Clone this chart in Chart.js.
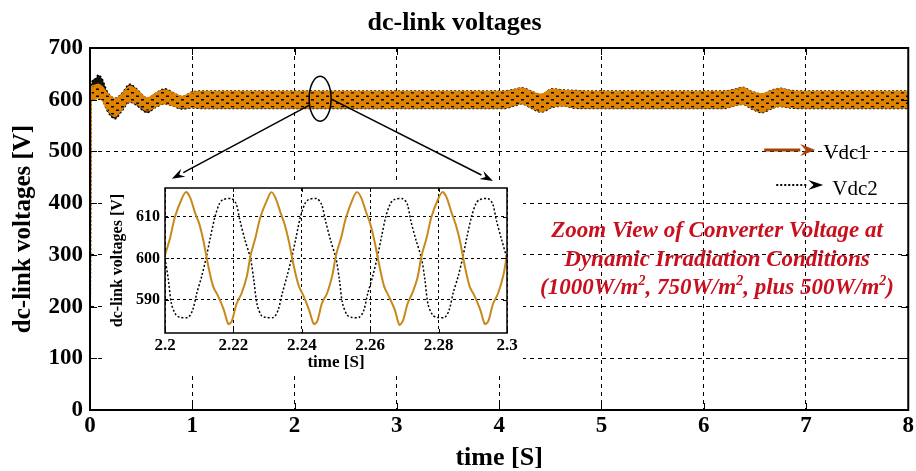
<!DOCTYPE html>
<html>
<head>
<meta charset="utf-8">
<title>dc-link voltages</title>
<script src="https://cdn.jsdelivr.net/npm/chart.js@4.4.0/dist/chart.umd.min.js"></script>
<style>
  body { margin: 0; background: #fff; }
  #wrap { position: relative; width: 916px; height: 471px; overflow: hidden; }
  #mainChart { position: absolute; left: 0; top: 0; }
  #insetChart { position: absolute; left: 103px; top: 183px; }
  #note {
    position: absolute; left: 497px; top: 216px; width: 440px;
    text-align: center; color: #c8101e;
    font: italic bold 23px "Liberation Serif", "Times New Roman", serif;
    line-height: 28.5px;
  }
  #note sup { font-size: 14px; line-height: 0; vertical-align: 9px; }
</style>
</head>
<body>
<div id="wrap">
  <canvas id="mainChart" width="916" height="471"></canvas>
  <canvas id="insetChart" width="420" height="190"></canvas>
  <div id="note">Zoom View of Converter Voltage at<br>Dynamic Irradiation Conditions<br>(1000W/m<sup>2</sup>, 750W/m<sup>2</sup>, plus 500W/m<sup>2</sup>)</div>
</div>
<script>
// ---- main plot: envelope of the ripple band ----
const envTime = [0, 0.01, 0.05, 0.08, 0.12, 0.17, 0.245, 0.31, 0.39, 0.45,
  0.56, 0.64, 0.73, 0.81, 0.9, 1.0, 1.1, 1.5, 2.0, 2.5,
  3.0, 3.5, 4.05, 4.15, 4.22, 4.3, 4.41, 4.52, 4.62, 4.72,
  4.85, 5.0, 5.5, 6.0, 6.2, 6.3, 6.38, 6.47, 6.57, 6.66,
  6.74, 6.85, 6.95, 7.2, 7.5, 8.0];
const vdc2Hi = [0, 628, 640, 648, 640, 615, 603, 612, 630, 622,
  603, 612, 621, 614, 606, 615, 617, 617, 617, 617,
  617, 617, 617, 620, 623, 618, 610, 621, 619, 618,
  617, 617, 617, 617, 617, 620, 624, 616, 611, 618,
  622, 618, 617, 617, 617, 617];
const vdc2Lo = [0, 600, 605, 608, 600, 578, 563, 578, 595, 590,
  575, 585, 592, 588, 582, 584, 583, 583, 583, 583,
  583, 583, 583, 588, 592, 585, 576, 585, 588, 584,
  583, 583, 583, 583, 583, 588, 591, 582, 575, 582,
  587, 584, 583, 583, 583, 583];
const vdc1Hi = [0, 625, 628, 630, 625, 612, 602, 610, 626, 620,
  603, 612, 619, 613, 606, 614, 616, 616, 616, 616,
  616, 616, 616, 619, 622, 617, 610, 620, 618, 617,
  616, 616, 616, 616, 616, 619, 623, 615, 611, 617,
  621, 617, 616, 616, 616, 616];
const vdc1Lo = [0, 600, 600, 603, 598, 580, 567, 580, 596, 592,
  578, 586, 592, 588, 584, 585, 584, 584, 584, 584,
  584, 584, 584, 589, 592, 586, 577, 586, 588, 585,
  584, 584, 584, 584, 584, 588, 591, 583, 576, 583,
  587, 585, 584, 584, 584, 584];

// ---- inset (zoom 2.2 .. 2.3 s) ----
const insetT1 = [
  2.2, 2.2015, 2.2029, 2.2049, 2.2061, 2.2073, 2.2088, 2.21, 2.2112, 2.2127, 2.2141, 2.2156, 2.2172, 2.2185, 2.2195, 2.2209, 2.2224, 2.2239,
  2.225, 2.2265, 2.2279, 2.2299, 2.2311, 2.2323, 2.2338, 2.235, 2.2362, 2.2377, 2.2391, 2.2406, 2.2422, 2.2435, 2.2445, 2.2459, 2.2474, 2.2489,
  2.25, 2.2515, 2.2529, 2.2549, 2.2561, 2.2573, 2.2588, 2.26, 2.2612, 2.2627, 2.2641, 2.2656, 2.2672, 2.2685, 2.2695, 2.2709, 2.2724, 2.2739,
  2.275, 2.2765, 2.2779, 2.2799, 2.2811, 2.2823, 2.2838, 2.285, 2.2862, 2.2877, 2.2891, 2.2906, 2.2922, 2.2935, 2.2945, 2.2959, 2.2974, 2.2989, 2.3];
const insetVdc1 = [
  600.8, 605, 610, 614.4, 616, 614.8, 611, 608.4, 604.4, 598, 593.2, 590.8, 587.6, 584.2, 584.8, 589, 591.6, 595.6,
  600.6, 605.2, 610, 614.2, 616, 614.6, 611, 608.2, 604.2, 598, 593.4, 590.8, 587.4, 584.2, 584.8, 589.2, 591.6, 595.8,
  600.8, 605, 609.8, 614.4, 616, 614.8, 611.2, 608.4, 604.4, 598.2, 593.2, 590.6, 587.6, 584, 584.8, 589, 591.8, 595.6,
  600.6, 605, 610, 614.4, 616, 614.8, 611, 608.2, 604.4, 598, 593.2, 590.8, 587.6, 584.2, 584.8, 589, 591.6, 595.8, 601];
const insetT2 = [
  2.2, 2.201, 2.2019, 2.2032, 2.2044, 2.2068, 2.2081, 2.2093, 2.2107, 2.212, 2.2133, 2.2146, 2.2159, 2.217, 2.2195, 2.2208, 2.2219, 2.2234,
  2.225, 2.226, 2.2269, 2.2282, 2.2294, 2.2318, 2.2331, 2.2343, 2.2357, 2.237, 2.2383, 2.2396, 2.2409, 2.242, 2.2445, 2.2458, 2.2469, 2.2484,
  2.25, 2.251, 2.2519, 2.2532, 2.2544, 2.2568, 2.2581, 2.2593, 2.2607, 2.262, 2.2633, 2.2646, 2.2659, 2.267, 2.2695, 2.2708, 2.2719, 2.2734,
  2.275, 2.276, 2.2769, 2.2782, 2.2794, 2.2818, 2.2831, 2.2843, 2.2857, 2.287, 2.2883, 2.2896, 2.2909, 2.292, 2.2945, 2.2958, 2.2969, 2.2984, 2.3];
const insetVdc2 = [
  600, 594.8, 589, 586.4, 585.8, 585.8, 587.6, 591.6, 595.6, 600, 605.2, 610, 613.2, 614.2, 614.4, 613.2, 609.2, 604.4,
  600, 594.6, 589, 586.2, 585.8, 585.8, 587.6, 591.6, 595.8, 600, 605, 610, 613.2, 614.2, 614.4, 613, 609.2, 604.4,
  600, 594.8, 589.2, 586.4, 585.8, 585.8, 587.4, 591.6, 595.6, 600, 605.2, 610.2, 613.2, 614.2, 614.4, 613.2, 609, 604.4,
  600, 594.8, 589, 586.4, 585.8, 585.8, 587.6, 591.8, 595.6, 600, 605.2, 610, 613.2, 614.2, 614.4, 613.2, 609.2, 604.6, 600];

const insetXTicks = [2.2, 2.22, 2.24, 2.26, 2.28, 2.3];
const insetYTicks = [590, 600, 610];

// zoom marker + arrows, in main-plot data units
const zoomSpot = { x: 2.25, y: 600 };
const zoomArrows = [
  { from: { x: 2.15, y: 590 }, to: { x: 0.8, y: 447 } },
  { from: { x: 2.36, y: 601 }, to: { x: 3.94, y: 443 } }
];

const serif = '"Liberation Serif", "Times New Roman", serif';
const orange = '#e08300';

const pts = (xs, ys) => xs.map((x, i) => ({ x: x, y: ys[i] }));

// orange band with black speckle texture
function makeBandPattern() {
  const c = document.createElement('canvas');
  c.width = 10; c.height = 7;
  const g = c.getContext('2d');
  g.fillStyle = orange;
  g.fillRect(0, 0, 10, 7);
  g.fillStyle = '#000';
  g.fillRect(1, 1, 3, 1.5);
  g.fillRect(6, 4.5, 3, 1.5);
  return g.createPattern(c, 'repeat');
}

function arrow(ctx, x0, y0, x1, y1, color, width, dash, headLen, headW) {
  const ang = Math.atan2(y1 - y0, x1 - x0);
  const bx = x1 - headLen * Math.cos(ang), by = y1 - headLen * Math.sin(ang);
  ctx.strokeStyle = color; ctx.fillStyle = color; ctx.lineWidth = width;
  ctx.setLineDash(dash);
  ctx.beginPath(); ctx.moveTo(x0, y0); ctx.lineTo(bx, by); ctx.stroke();
  ctx.setLineDash([]);
  ctx.beginPath();
  ctx.moveTo(x1, y1);
  ctx.lineTo(bx + headW / 2 * Math.sin(ang), by - headW / 2 * Math.cos(ang));
  ctx.lineTo(bx + 0.35 * headLen * Math.cos(ang), by + 0.35 * headLen * Math.sin(ang));
  ctx.lineTo(bx - headW / 2 * Math.sin(ang), by + headW / 2 * Math.cos(ang));
  ctx.closePath(); ctx.fill();
}

function innerTicks(ctx, chart, len) {
  const a = chart.chartArea, x = chart.scales.x, y = chart.scales.y;
  ctx.strokeStyle = '#000'; ctx.lineWidth = 1; ctx.setLineDash([]);
  ctx.beginPath();
  x.ticks.forEach(t => {
    const px = Math.round(x.getPixelForValue(t.value)) + 0.5;
    ctx.moveTo(px, a.bottom); ctx.lineTo(px, a.bottom - len);
    ctx.moveTo(px, a.top); ctx.lineTo(px, a.top + len);
  });
  y.ticks.forEach(t => {
    const py = Math.round(y.getPixelForValue(t.value)) + 0.5;
    ctx.moveTo(a.left, py); ctx.lineTo(a.left + len, py);
    ctx.moveTo(a.right, py); ctx.lineTo(a.right - len, py);
  });
  ctx.stroke();
}

const mainMarks = {
  id: 'mainMarks',
  afterDatasetsDraw(chart) {
    const { ctx, chartArea: a, scales: { x, y } } = chart;
    ctx.save();
    innerTicks(ctx, chart, 7);
    ctx.strokeStyle = '#000'; ctx.lineWidth = 2; ctx.setLineDash([]);
    ctx.strokeRect(a.left, a.top, a.right - a.left, a.bottom - a.top);

    // ellipse around the zoomed window
    ctx.lineWidth = 1.5;
    ctx.beginPath();
    ctx.ellipse(x.getPixelForValue(zoomSpot.x), y.getPixelForValue(zoomSpot.y) - 1, 11, 22.5, 0, 0, Math.PI * 2);
    ctx.stroke();
    zoomArrows.forEach(ar => {
      arrow(ctx, x.getPixelForValue(ar.from.x), y.getPixelForValue(ar.from.y),
        x.getPixelForValue(ar.to.x), y.getPixelForValue(ar.to.y), '#000', 1.5, [], 13, 9);
    });

    // legend
    arrow(ctx, a.right - 144, a.top + 102, a.right - 93, a.top + 102, '#a8420c', 3, [], 15, 12);
    arrow(ctx, a.right - 132, a.top + 137, a.right - 85, a.top + 137, '#000', 2, [2, 2], 15, 10);
    ctx.fillStyle = '#000';
    ctx.font = '21px ' + serif;
    ctx.textBaseline = 'middle';
    ctx.fillText('Vdc1', a.right - 85, a.top + 105);
    ctx.fillText('Vdc2', a.right - 76, a.top + 141);
    ctx.restore();
  }
};

const mainChart = new Chart(document.getElementById('mainChart'), {
  type: 'line',
  data: {
    datasets: [
      { label: 'Vdc2 min', data: pts(envTime, vdc2Lo), borderColor: '#000', borderWidth: 1.5,
        borderDash: [2, 2], fill: false, order: 2 },
      { label: 'Vdc2', data: pts(envTime, vdc2Hi), borderColor: '#000', borderWidth: 1.5,
        borderDash: [2, 2], backgroundColor: '#111', fill: 0, order: 2 },
      { label: 'Vdc1 min', data: pts(envTime, vdc1Lo), borderColor: orange, borderWidth: 1,
        fill: false, order: 1 },
      { label: 'Vdc1', data: pts(envTime, vdc1Hi), borderColor: orange, borderWidth: 1.5,
        backgroundColor: makeBandPattern(), fill: 2, order: 1 }
    ]
  },
  options: {
    responsive: false,
    animation: false,
    events: [],
    cubicInterpolationMode: 'monotone',
    elements: { point: { radius: 0 } },
    layout: { padding: { left: 0, right: 7, top: 0, bottom: 0 } },
    plugins: {
      legend: { display: false },
      tooltip: { enabled: false },
      title: {
        display: true, text: 'dc-link voltages', color: '#000',
        font: { family: serif, size: 26, weight: 'bold' },
        padding: { top: 7.4, bottom: 9.4 }
      }
    },
    scales: {
      x: {
        type: 'linear', min: 0, max: 8,
        afterFit: s => { s.height = 61; },
        ticks: { stepSize: 1, color: '#000', padding: 2, font: { family: serif, size: 23, weight: 'bold' } },
        grid: { color: '#000', lineWidth: 1, drawTicks: false },
        border: { display: false, dash: [4, 4] },
        title: { display: true, text: 'time [S]', color: '#000', padding: { top: 0, bottom: -3 },
          font: { family: serif, size: 26, weight: 'bold' } }
      },
      y: {
        min: 0, max: 700,
        afterFit: s => { s.width = 90; },
        ticks: { stepSize: 100, color: '#000', padding: 7, font: { family: serif, size: 23, weight: 'bold' } },
        grid: { color: '#000', lineWidth: 1, drawTicks: false },
        border: { display: false, dash: [4, 4] },
        title: { display: true, text: 'dc-link voltages [V]', color: '#000', padding: { top: 9, bottom: 0 },
          font: { family: serif, size: 25, weight: 'bold' } }
      }
    }
  },
  plugins: [mainMarks]
});

const insetFrame = {
  id: 'insetFrame',
  beforeDraw(chart) {
    const ctx = chart.ctx;
    ctx.save();
    ctx.fillStyle = '#fff';
    ctx.fillRect(0, 0, chart.width, chart.height);
    ctx.restore();
  },
  afterDatasetsDraw(chart) {
    const { ctx, chartArea: a } = chart;
    ctx.save();
    innerTicks(ctx, chart, 4);
    ctx.strokeStyle = '#000'; ctx.lineWidth = 1.5; ctx.setLineDash([]);
    ctx.strokeRect(a.left, a.top, a.right - a.left, a.bottom - a.top);
    ctx.restore();
  }
};

const insetChart = new Chart(document.getElementById('insetChart'), {
  type: 'line',
  data: {
    datasets: [
      { label: 'Vdc1', data: pts(insetT1, insetVdc1), borderColor: '#c8891c', borderWidth: 2, tension: 0.3 },
      { label: 'Vdc2', data: pts(insetT2, insetVdc2), borderColor: '#000', borderWidth: 1.5,
        borderDash: [2, 2], tension: 0.3 }
    ]
  },
  options: {
    responsive: false,
    animation: false,
    events: [],
    elements: { point: { radius: 0 } },
    layout: { padding: { left: 0, right: 16, top: 5, bottom: 0 } },
    plugins: { legend: { display: false }, tooltip: { enabled: false } },
    scales: {
      x: {
        type: 'linear', min: 2.2, max: 2.3,
        afterFit: s => { s.height = 40; s.paddingLeft = 0; s.paddingRight = 0; },
        afterBuildTicks: s => { s.ticks = insetXTicks.map(v => ({ value: v })); },
        ticks: { color: '#000', padding: 2, callback: v => String(+v.toFixed(2)),
          font: { family: serif, size: 17, weight: 'bold' } },
        grid: { color: '#000', lineWidth: 1, drawTicks: false },
        border: { display: false, dash: [3, 3] },
        title: { display: true, text: 'time [S]', color: '#000', padding: { top: 0, bottom: 0 },
          font: { family: serif, size: 17, weight: 'bold' } }
      },
      y: {
        min: 582, max: 617,
        afterFit: s => { s.width = 62; s.paddingTop = 0; s.paddingBottom = 0; },
        afterBuildTicks: s => { s.ticks = insetYTicks.map(v => ({ value: v })); },
        ticks: { color: '#000', padding: 5, font: { family: serif, size: 16, weight: 'bold' } },
        grid: { color: '#000', lineWidth: 1, drawTicks: false },
        border: { display: false, dash: [3, 3] },
        title: { display: true, text: 'dc-link voltages [V]', color: '#000', padding: { top: 5, bottom: 0 },
          font: { family: serif, size: 16, weight: 'bold' } }
      }
    }
  },
  plugins: [insetFrame]
});
</script>
</body>
</html>
